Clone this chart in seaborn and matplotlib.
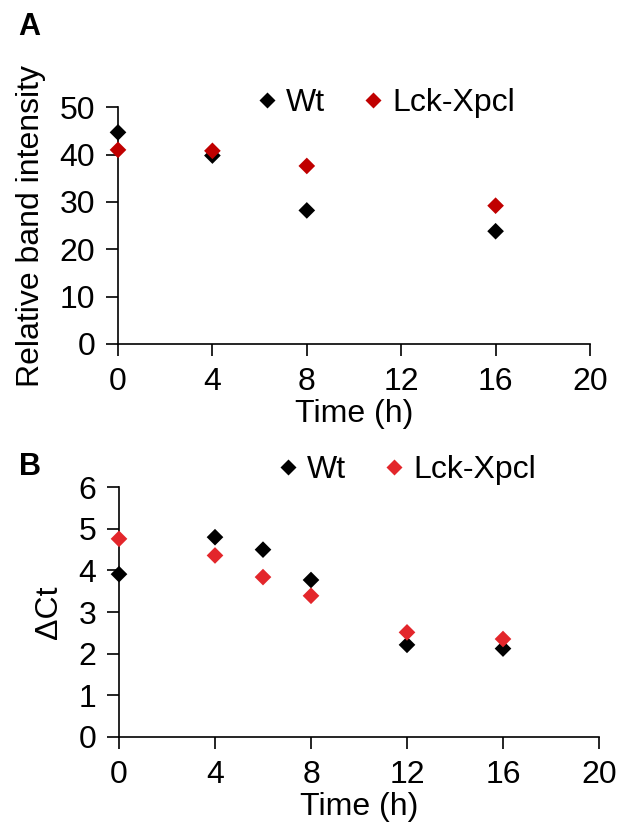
import matplotlib
matplotlib.use("Agg")
import matplotlib.pyplot as plt
import seaborn as sns
import pandas as pd

# Panel A data
time_a = [0, 4, 8, 16]
wt_a = [44.7, 39.8, 28.2, 23.8]
lck_a = [41.0, 40.8, 37.6, 29.2]

# Panel B data
time_b = [0, 4, 6, 8, 12, 16]
wt_b = [3.91, 4.80, 4.50, 3.77, 2.21, 2.12]
lck_b = [4.76, 4.36, 3.84, 3.39, 2.51, 2.35]

series = ["Wt", "Lck-Xpcl"]
x_ticks = [0, 4, 8, 12, 16, 20]
ya_ticks = [0, 10, 20, 30, 40, 50]
yb_ticks = [0, 1, 2, 3, 4, 5, 6]

sns.set_style("white")
plt.rcParams['font.family'] = ['Liberation Sans', 'DejaVu Sans']
plt.rcParams['text.color'] = 'black'
plt.rcParams['axes.labelcolor'] = 'black'
plt.rcParams['xtick.color'] = 'black'
plt.rcParams['ytick.color'] = 'black'

def long_df(t, a, b):
    return pd.DataFrame({
        "Time": list(t) + list(t),
        "val": list(a) + list(b),
        "Group": [series[0]] * len(t) + [series[1]] * len(t),
    })

df_a = long_df(time_a, wt_a, lck_a)
df_b = long_df(time_b, wt_b, lck_b)

fig = plt.figure(figsize=(6.18, 8.32), dpi=100)
W, H = 618, 832
def ax_rect(l, r, t, b):
    return [l / W, 1 - b / H, (r - l) / W, (b - t) / H]

axA = fig.add_axes(ax_rect(118, 590, 107.3, 343.8))
axB = fig.add_axes(ax_rect(119, 599, 487.3, 736.7))

FS = 23

def style(ax, df, pal, ylim, yticks, ylabel, leg_center):
    sns.scatterplot(data=df, x="Time", y="val", hue="Group", palette=pal,
                    marker="D", s=72, edgecolor="none", ax=ax, zorder=3,
                    clip_on=False)
    ax.set_xlim(0, 20)
    ax.set_ylim(*ylim)
    ax.set_xticks(x_ticks)
    ax.set_yticks(yticks)
    ax.tick_params(axis="both", labelsize=FS, direction="out", length=8.5,
                   width=1.2, color="black", labelcolor="black", pad=8,
                   bottom=True, left=True)
    for s in ["top", "right"]:
        ax.spines[s].set_visible(False)
    for s in ["left", "bottom"]:
        ax.spines[s].set_color("black")
        ax.spines[s].set_linewidth(1.2)
    ax.set_xlabel("Time (h)", fontsize=FS, labelpad=2, color="black")
    ax.set_ylabel(ylabel, fontsize=FS, labelpad=10, color="black")
    h, l = ax.get_legend_handles_labels()
    leg = ax.legend(h, l, loc="center", bbox_to_anchor=leg_center,
                    bbox_transform=fig.transFigure, ncol=2, frameon=False,
                    fontsize=FS, handletextpad=0.0, columnspacing=0.9,
                    markerscale=1.0, borderpad=0, handlelength=1.2)
    for t in leg.get_texts():
        t.set_color("black")

style(axA, df_a, {"Wt": "#000000", "Lck-Xpcl": "#C00000"}, (0, 50), ya_ticks,
      "Relative band intensity", (381 / W, 1 - 103 / H))
style(axB, df_b, {"Wt": "#000000", "Lck-Xpcl": "#E3262B"}, (0, 6), yb_ticks,
      "ΔCt", (402 / W, 1 - 470 / H))

fig.text(18 / W, 1 - 12 / H, "A", fontsize=22, fontweight="bold", va="top", ha="left")
fig.text(19 / W, 1 - 452 / H, "B", fontsize=22, fontweight="bold", va="top", ha="left")

fig.savefig("out.png", dpi=100)
